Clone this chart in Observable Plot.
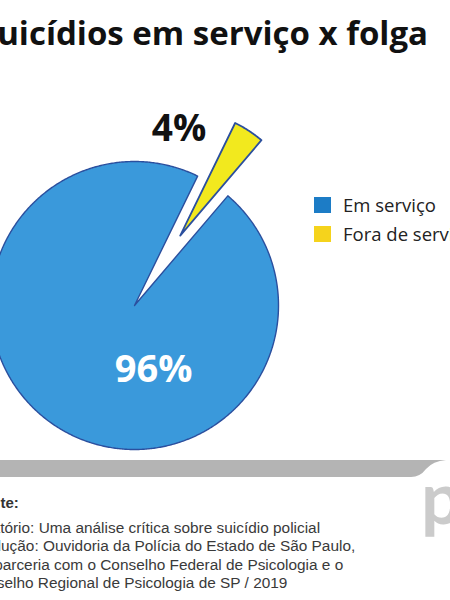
<!DOCTYPE html>
<html>
<head>
<meta charset="utf-8">
<script src="https://cdn.jsdelivr.net/npm/d3@7"></script>
<script src="https://cdn.jsdelivr.net/npm/@observablehq/plot@0.6"></script>
<style>
  html, body { margin: 0; padding: 0; background: #fff; }
  #wrap { position: relative; width: 450px; height: 600px; overflow: hidden; background: #fff; }
  #wrap > svg { position: absolute; left: 0; top: 0; }
</style>
</head>
<body>
<div id="wrap"></div>
<script>
// ---- data ----
const title = "Suicídios em serviço x folga";
const categories = ["Em serviço", "Fora de serviço"];
const values = [96, 4];
const valueLabels = ["96%", "4%"];
const pieColors = ["#3a99db", "#f2e91e"];
const legendColors = ["#1c7cc6", "#f5d31c"];
const sourceTitle = "Fonte:";
const sourceLines = [
  "Relatório: Uma análise crítica sobre suicídio policial",
  "Produção: Ouvidoria da Polícia do Estado de São Paulo,",
  "em parceria com o Conselho Federal de Psicologia e o",
  "Conselho Regional de Psicologia de SP / 2019"
];
const logoText = "ponte";

// ---- layout ----
const W = 450, H = 600;
const cx = 134, cy = 305, R = 144;          // pie centre / radius in px
const startDeg = 40.4;                      // where the first slice begins (clockwise from 12 o'clock)
const explode = [0, 0.58];                  // offset of each slice (radius units)
const radiusFactor = [1, 0.87];
const outline = "#2b4f9e";
const labelPolar = [{angle: 163.4, dist: 0.463, size: 38, fill: "#ffffff"},
                    {angle: 14.2, dist: 1.26, size: 37, fill: "#111111"}];

const rad = Math.PI / 180;
const arcs = d3.pie().sort(null)
  .startAngle(startDeg * rad)
  .endAngle((startDeg + 360) * rad)(values);

const pts = [];
arcs.forEach((a, i) => {
  const mid = (a.startAngle + a.endAngle) / 2;
  const ox = Math.sin(mid) * explode[i], oy = Math.cos(mid) * explode[i];
  const rf = radiusFactor[i];
  pts.push({i, x: ox, y: oy});
  const n = Math.max(8, Math.ceil((a.endAngle - a.startAngle) / (0.5 * rad)));
  for (let k = 0; k <= n; k++) {
    const t = a.startAngle + (a.endAngle - a.startAngle) * k / n;
    pts.push({i, x: ox + rf * Math.sin(t), y: oy + rf * Math.cos(t)});
  }
});

const labels = arcs.map((a, i) => ({
  text: valueLabels[i],
  x: labelPolar[i].dist * Math.sin(labelPolar[i].angle * rad),
  y: labelPolar[i].dist * Math.cos(labelPolar[i].angle * rad),
  i
}));

const sliceMarks = arcs.map((a, i) =>
  Plot.line(pts.filter(d => d.i === i), {
    x: "x", y: "y", curve: "linear-closed",
    fill: pieColors[i], stroke: outline, strokeWidth: i === 0 ? 1.4 : 1.8,
    strokeLinejoin: "round"
  })
);
const labelMarks = labels.map((d, i) =>
  Plot.text([d], {
    x: "x", y: "y", text: "text",
    fill: labelPolar[i].fill, fontSize: labelPolar[i].size,
    fontWeight: "bold", fontFamily: "Open Sans", textAnchor: "middle"
  })
);

const chart = Plot.plot({
  width: W, height: H, margin: 0,
  x: {domain: [-cx / R, (W - cx) / R], axis: null},
  y: {domain: [-(H - cy) / R, cy / R], axis: null},
  style: {background: "transparent", overflow: "visible"},
  marks: [
    ...arcs.map((a, i) => Plot.line(pts.filter(d => d.i === i), {
      x: "x", y: "y", curve: "linear-closed", fill: "none",
      stroke: "#ffffff", strokeWidth: 6, strokeLinejoin: "round"
    })),
    ...sliceMarks,
    ...labelMarks
  ]
});
const wrap = document.getElementById("wrap");
wrap.appendChild(chart);

// ---- overlay: title, legend, footer ----
const svg = d3.select(wrap).append("svg")
  .attr("width", W).attr("height", H)
  .style("position", "absolute").style("left", 0).style("top", 0);

svg.append("text").text(title)
  .attr("x", 428).attr("y", 45).attr("text-anchor", "end")
  .attr("font-family", "Open Sans").attr("font-weight", "bold")
  .attr("font-size", 33).attr("fill", "#111");

const lg = svg.append("g");
categories.forEach((c, i) => {
  const y0 = 197 + i * 29;
  lg.append("rect").attr("x", 314).attr("y", y0).attr("width", 17).attr("height", 16)
    .attr("fill", legendColors[i]);
  lg.append("text").text(c).attr("x", 343).attr("y", y0 + 15)
    .attr("font-family", "Open Sans").attr("font-size", 18.5).attr("fill", "#222");
});

// grey band
svg.append("path")
  .attr("d", "M -2 460 L 446 460 Q 433 461 426 469 Q 420 477 411 477 L -2 477 Z")
  .attr("fill", "#b4b4b4");

// logo
svg.append("text").text(logoText)
  .attr("x", 421).attr("y", 524)
  .attr("font-family", "Lato").attr("font-weight", "bold")
  .attr("font-size", 72).attr("fill", "#cbcbcb");

// source
svg.append("text").text(sourceTitle)
  .attr("x", -27).attr("y", 508)
  .attr("font-family", "Liberation Sans").attr("font-weight", "bold")
  .attr("font-size", 15).attr("fill", "#333");
const fx = -31.5;
sourceLines.forEach((s, i) => {
  svg.append("text").text(s)
    .attr("x", fx).attr("y", 533 + i * 18.4)
    .attr("font-family", "Liberation Sans").attr("font-size", 15.4).attr("fill", "#3a3a3a");
});
</script>
</body>
</html>
